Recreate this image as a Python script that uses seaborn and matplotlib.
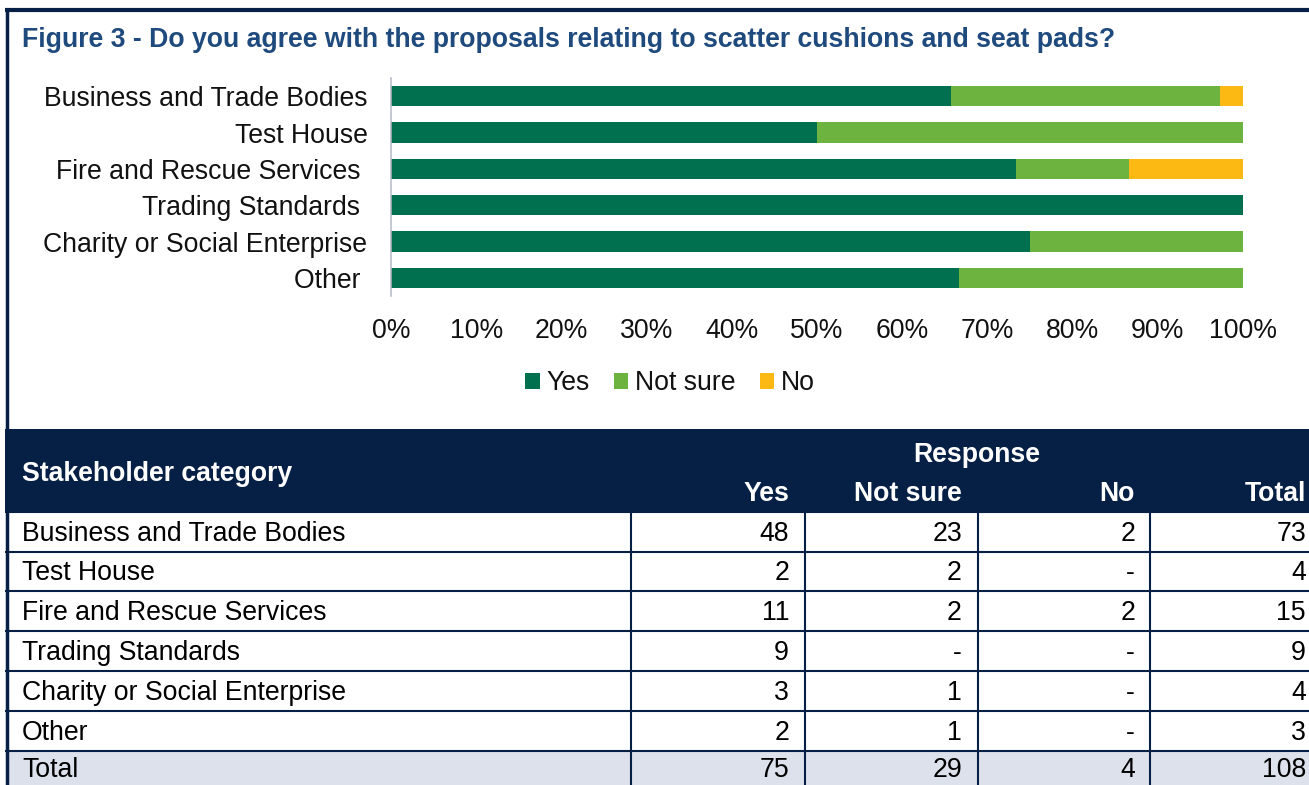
import matplotlib
matplotlib.use("Agg")
import pandas as pd
import matplotlib.pyplot as plt
from matplotlib.patches import Patch, Rectangle
import seaborn as sns

sns.set_theme(style="white")
plt.rcParams["font.family"] = ["Liberation Sans", "DejaVu Sans"]

W, H = 1309, 785
NAVY = "#061f44"
DARK_GREEN = "#00704f"
LIGHT_GREEN = "#6db33f"
YELLOW = "#fdb913"
TITLE_BLUE = "#1f4a7d"
TOTAL_BG = "#dde1eb"
FS = 19.2
DY = 2  # small nudge so text sits like the reference

# ---------------------------------------------------------
# DATA
# ---------------------------------------------------------
categories = ["Business and Trade Bodies", "Test House", "Fire and Rescue Services",
              "Trading Standards", "Charity or Social Enterprise", "Other"]
chart_labels = ["Business and Trade Bodies", "Test House", "Fire and Rescue Services ",
                "Trading Standards ", "Charity or Social Enterprise", "Other "]
yes_counts = [48, 2, 11, 9, 3, 2]
not_sure_counts = [23, 2, 2, 0, 1, 1]
no_counts = [2, 0, 2, 0, 0, 0]
responses = ["Yes", "Not sure", "No"]
colors = [DARK_GREEN, LIGHT_GREEN, YELLOW]
x_ticks = [0, 10, 20, 30, 40, 50, 60, 70, 80, 90, 100]

df = pd.DataFrame({"category": categories, "Yes": yes_counts,
                   "Not sure": not_sure_counts, "No": no_counts})
df["Total"] = df[responses].sum(axis=1)
pct = df[responses].div(df["Total"], axis=0) * 100
cum = pct.cumsum(axis=1)

fig = plt.figure(figsize=(W / 100, H / 100), dpi=100)


def px_rect(x0, y0, x1, y1):
    return [x0 / W, 1 - y1 / H, (x1 - x0) / W, (y1 - y0) / H]


# ---------------------------------------------------------
# STACKED BAR CHART
# ---------------------------------------------------------
ax = fig.add_axes(px_rect(391, 78, 1243, 296))
# layered cumulative bars: widest first so the segments show as a stack
for resp, col in reversed(list(zip(responses, colors))):
    sns.barplot(x=cum[resp].values, y=df["category"], orient="h", color=col,
                saturation=1, width=0.56, errorbar=None, linewidth=0, ax=ax)

ax.set_xlim(0, 100)
ax.set_ylim(5.5, -0.5)
ax.set_xticks(x_ticks)
ax.set_xticklabels([f"{t}%" for t in x_ticks], fontsize=FS)
ax.set_yticks(range(len(categories)))
ax.set_yticklabels(chart_labels, fontsize=FS)
for lab in ax.get_yticklabels():
    lab.set_y(lab.get_position()[1])
ax.set_xlabel("")
ax.set_ylabel("")
ax.tick_params(axis="x", length=0, pad=16, colors="#111111")
ax.tick_params(axis="y", length=0, pad=17, colors="#111111")
for side in ["top", "right", "bottom"]:
    ax.spines[side].set_visible(False)
ax.spines["left"].set_color("#b3b9c6")
ax.spines["left"].set_linewidth(1.1)
ax.grid(False)

handles = [Patch(facecolor=c, edgecolor="none", label=r) for r, c in zip(responses, colors)]
fig.legend(handles=handles, loc="center", bbox_to_anchor=(670 / W, 1 - 383 / H),
           ncol=3, frameon=False, fontsize=FS, handlelength=0.55, handleheight=0.55,
           handletextpad=0.25, columnspacing=0.9, labelcolor="#111111")

# ---------------------------------------------------------
# FRAME, TITLE AND TABLE (pixel coordinates)
# ---------------------------------------------------------
tx = fig.add_axes([0, 0, 1, 1])
tx.set_xlim(0, W)
tx.set_ylim(H, 0)
tx.axis("off")
tx.patch.set_visible(False)

tx.hlines(10, 5, W, color=NAVY, lw=3)
tx.vlines(7, 8, H, color=NAVY, lw=2.5)
tx.text(22, 38 + DY, "Figure 3 - Do you agree with the proposals relating to scatter cushions and seat pads?",
        fontsize=FS, fontweight="bold", color=TITLE_BLUE, va="center", ha="left")

row_edges = [512, 552, 591, 631, 671, 711, 751, H]
col_lines = [631, 805, 978, 1150]
num_right = [789, 962, 1135, 1306]

tx.add_patch(Rectangle((5, 429), W - 5, row_edges[0] - 429, color=NAVY, lw=0))
tx.add_patch(Rectangle((7, row_edges[-2]), W - 7, H - row_edges[-2], color=TOTAL_BG, lw=0))

tx.text(22, 472 + DY, "Stakeholder category", fontsize=FS, fontweight="bold", color="white",
        va="center", ha="left")
tx.text(977, 453 + DY, "Response", fontsize=FS, fontweight="bold", color="white",
        va="center", ha="center")
for xr, lab in zip(num_right, responses + ["Total"]):
    tx.text(xr, 492 + DY, lab, fontsize=FS, fontweight="bold", color="white",
            va="center", ha="right")

totals = df[responses + ["Total"]].sum()
table_rows = [(c, [df.loc[i, k] for k in responses + ["Total"]]) for i, c in enumerate(categories)]
table_rows.append(("Total", [totals[k] for k in responses + ["Total"]]))

for r, (name, vals) in enumerate(table_rows):
    yc = (row_edges[r] + row_edges[r + 1]) / 2 + DY
    tx.text(22, yc, name, fontsize=FS, color="black", va="center", ha="left")
    for xr, v in zip(num_right, vals):
        tx.text(xr, yc, "-" if v == 0 else str(int(v)), fontsize=FS, color="black",
                va="center", ha="right")

tx.hlines(row_edges[:-1], 5, W, color=NAVY, lw=1.5)
tx.vlines(col_lines, row_edges[0], H, color=NAVY, lw=1.5)

fig.savefig("out.png", dpi=100)
plt.close(fig)
